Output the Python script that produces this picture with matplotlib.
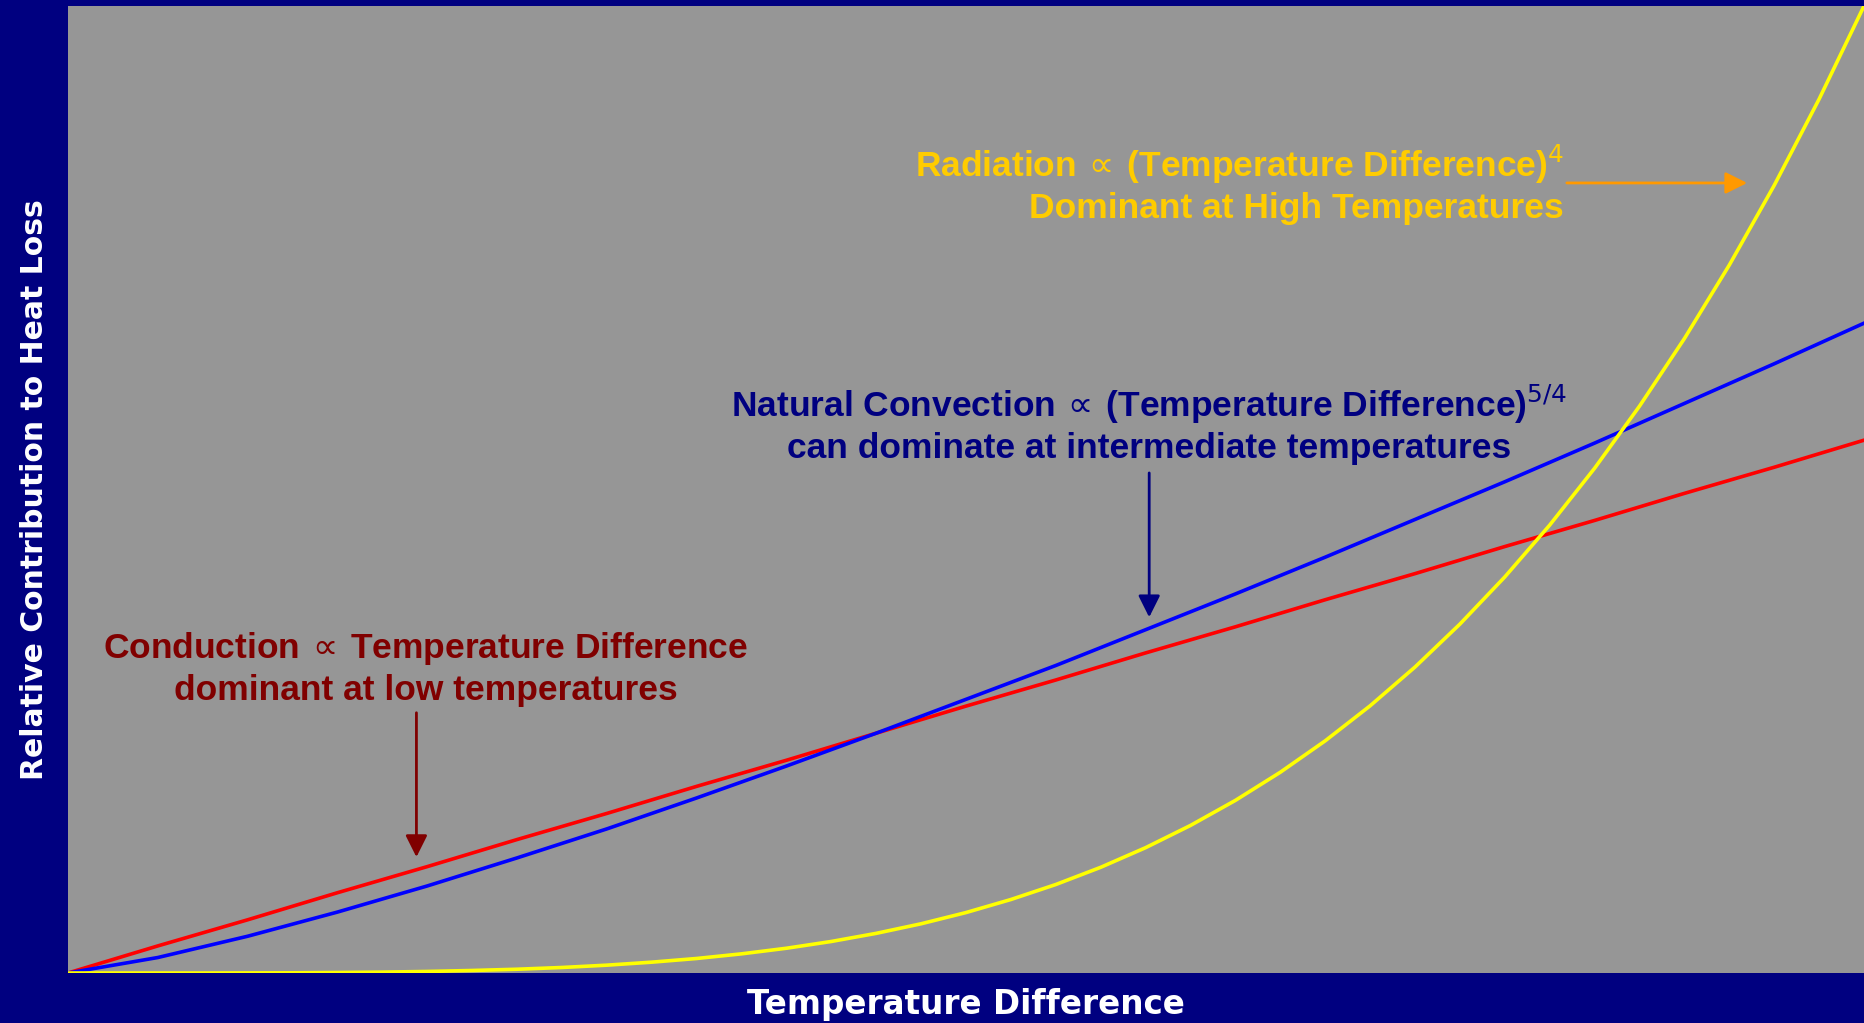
import matplotlib
matplotlib.use('Agg')
import matplotlib.pyplot as plt
import numpy as np

# relative temperature difference (0..1) and heat loss
temp_diff = [0.00, 0.05, 0.10, 0.15, 0.20, 0.25, 0.30, 0.35, 0.40, 0.45, 0.50,
             0.55, 0.60, 0.65, 0.70, 0.75, 0.80, 0.85, 0.90, 0.95, 1.00]
conduction = [0.000, 0.028, 0.055, 0.083, 0.110, 0.138, 0.165, 0.193, 0.220, 0.248, 0.276,
              0.303, 0.331, 0.358, 0.386, 0.413, 0.441, 0.468, 0.496, 0.523, 0.551]
convection = [0.000, 0.016, 0.038, 0.063, 0.090, 0.119, 0.149, 0.181, 0.214, 0.248, 0.283,
              0.318, 0.355, 0.392, 0.430, 0.469, 0.508, 0.548, 0.589, 0.630, 0.672]

# radiation curve bends sharply, so it was read at finer steps
temp_diff_fine = [0.000, 0.025, 0.050, 0.075, 0.100, 0.125, 0.150, 0.175, 0.200, 0.225,
                  0.250, 0.275, 0.300, 0.325, 0.350, 0.375, 0.400, 0.425, 0.450, 0.475,
                  0.500, 0.525, 0.550, 0.575, 0.600, 0.625, 0.650, 0.675, 0.700, 0.725,
                  0.750, 0.775, 0.800, 0.825, 0.850, 0.875, 0.900, 0.925, 0.950, 0.975, 1.000]
radiation = [0.0000, 0.0000, 0.0000, 0.0000, 0.0001, 0.0002, 0.0005, 0.0009, 0.0016, 0.0026,
             0.0039, 0.0057, 0.0081, 0.0112, 0.0150, 0.0198, 0.0256, 0.0326, 0.0410, 0.0509,
             0.0625, 0.0760, 0.0915, 0.1093, 0.1296, 0.1526, 0.1785, 0.2076, 0.2401, 0.2763,
             0.3164, 0.3608, 0.4096, 0.4632, 0.5220, 0.5862, 0.6561, 0.7321, 0.8145, 0.9037, 1.0000]

navy = '#000080'
narrow = ['Liberation Sans', 'DejaVu Sans']
prop = r'$\,{\propto}\,$'

fig = plt.figure(figsize=(18.64, 10.23), dpi=100, facecolor=navy)
ax = fig.add_axes([68/1864, 50/1023, 1796/1864, 967/1023])
ax.set_facecolor('#969696')

ax.plot(temp_diff, conduction, color='#ff0000', lw=2.6, zorder=3)
ax.plot(temp_diff, convection, color='#0000ff', lw=2.6, zorder=3)
ax.plot(temp_diff_fine, radiation, color='#ffff00', lw=2.6, zorder=4)

ax.set_xlim(0, 1)
ax.set_ylim(0, 1)
ax.set_xticks([])
ax.set_yticks([])
for s in ax.spines.values():
    s.set_visible(False)

ax.set_xlabel('Temperature Difference', color='white', fontsize=23.5,
              fontweight='bold', labelpad=11)
ax.set_ylabel('Relative Contribution to Heat Loss', color='white', fontsize=21.5,
              fontweight='bold', labelpad=14)

# annotations
ax.text(0.8331, 0.816, 'Radiation' + prop + '(Temperature Difference)$^4$\nDominant at High Temperatures',
        color='#ffcc00', fontsize=25.5, fontweight='bold', family=narrow,
        ha='right', va='center', multialignment='right', linespacing=1.25)
ax.annotate('', xy=(0.9365, 0.817), xytext=(0.833, 0.817),
            arrowprops=dict(arrowstyle='-|>', color='#ff9900', lw=2,
                            mutation_scale=33))

ax.text(0.602, 0.568, 'Natural Convection' + prop + '(Temperature Difference)$^{5/4}$\ncan dominate at intermediate temperatures',
        color=navy, fontsize=25.5, fontweight='bold', family=narrow,
        ha='center', va='center', multialignment='center', linespacing=1.25)
ax.annotate('', xy=(0.602, 0.365), xytext=(0.602, 0.520),
            arrowprops=dict(arrowstyle='-|>', color=navy, lw=2,
                            mutation_scale=33))

ax.text(0.199, 0.315, 'Conduction' + prop + 'Temperature Difference\ndominant at low temperatures',
        color='#800000', fontsize=25.5, fontweight='bold', family=narrow,
        ha='center', va='center', multialignment='center', linespacing=1.25)
ax.annotate('', xy=(0.194, 0.117), xytext=(0.194, 0.272),
            arrowprops=dict(arrowstyle='-|>', color='#800000', lw=2,
                            mutation_scale=33))

fig.savefig('out.png', dpi=100, facecolor=navy)
